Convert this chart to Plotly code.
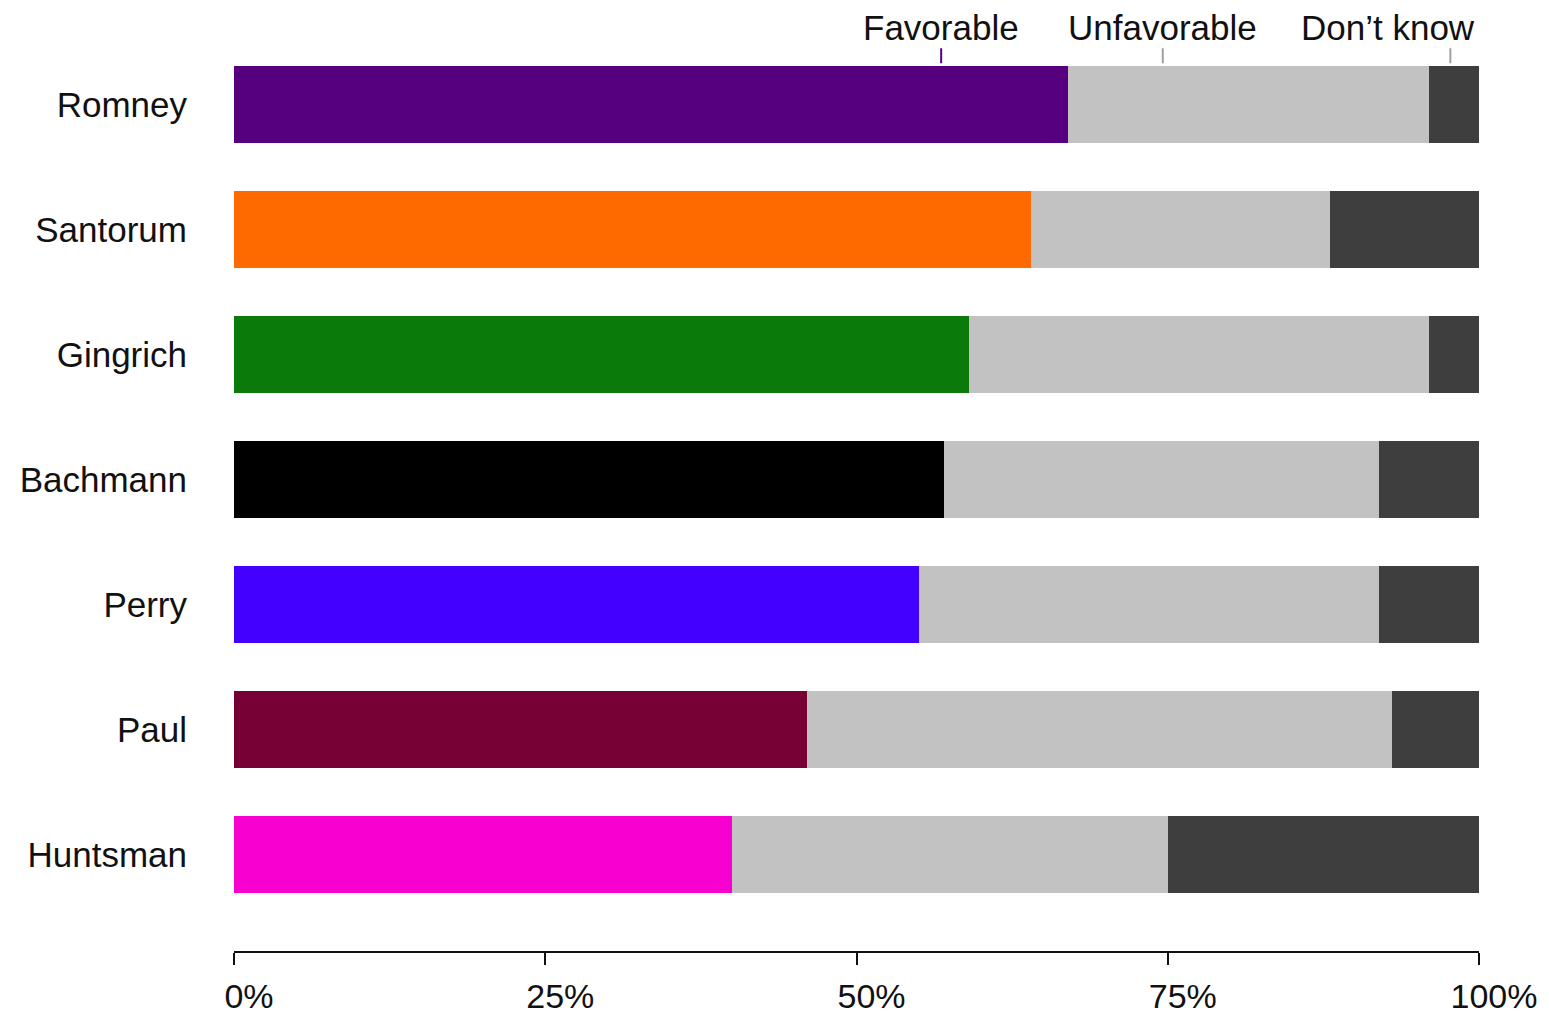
import plotly.graph_objects as go

categories = ["Romney", "Santorum", "Gingrich", "Bachmann", "Perry", "Paul", "Huntsman"]
favorable = [67, 64, 59, 57, 55, 46, 40]
unfavorable = [29, 24, 37, 35, 37, 47, 35]
dont_know = [4, 12, 4, 8, 8, 7, 25]
fav_colors = ["#560080", "#FF6A00", "#0A7A0A", "#000000", "#4400FF", "#770035", "#F800D0"]
legend_labels = ["Favorable", "Unfavorable", "Don\u2019t know"]
legend_x = [56.8, 74.6, 97.7]
tick_vals = [0, 25, 50, 75, 100]
tick_text = ["0%", "25%", "50%", "75%", "100%"]

ypos = list(range(len(categories)))
FONT = "Liberation Sans, Arial, sans-serif"

fig = go.Figure()
fig.add_trace(go.Bar(y=ypos, x=favorable, orientation="h", marker=dict(color=fav_colors, line=dict(width=0)),
                     width=0.62, name="Favorable", showlegend=False))
fig.add_trace(go.Bar(y=ypos, x=unfavorable, orientation="h", marker=dict(color="#C2C2C2", line=dict(width=0)),
                     width=0.62, name="Unfavorable", showlegend=False))
fig.add_trace(go.Bar(y=ypos, x=dont_know, orientation="h", marker=dict(color="#3E3E3E", line=dict(width=0)),
                     width=0.62, name="Don't know", showlegend=False))

# Legend labels with small pointer lines above the first bar
line_colors = ["#560080", "#A0A0A0", "#A0A0A0"]
for i, (lab, lx) in enumerate(zip(legend_labels, legend_x)):
    fig.add_shape(type="line", xref="x", yref="y", x0=lx, x1=lx, y0=-0.33, y1=-0.45,
                  line=dict(color=line_colors[i], width=2))
    if i < 2:
        fig.add_annotation(x=lx, y=0.992, xref="x", yref="paper", text=lab, showarrow=False,
                           xanchor="center", yanchor="bottom",
                           font=dict(family=FONT, size=35, color="#111111"))
    else:
        fig.add_annotation(x=99.8, y=0.992, xref="x", yref="paper", text=lab, showarrow=False,
                           xanchor="right", yanchor="bottom",
                           font=dict(family=FONT, size=35, color="#111111"))

fig.update_layout(
    width=1549, height=1019,
    margin=dict(l=226, r=78, t=34, b=69),
    barmode="stack",
    plot_bgcolor="white", paper_bgcolor="white",
    font=dict(family=FONT, color="#111111"),
    showlegend=False,
)
fig.update_xaxes(range=[0, 100], tickvals=tick_vals, ticktext=tick_text, showgrid=False, zeroline=False,
                 showline=True, linecolor="#111111", linewidth=2, ticks="outside", ticklen=12,
                 tickcolor="#111111", tickwidth=1.5, tickfont=dict(family=FONT, size=34, color="#111111"),
                 ticklabelshift=15, ticklabelstandoff=2)
fig.update_yaxes(range=[6.77, -0.5], tickvals=ypos, ticktext=categories, showgrid=False, zeroline=False,
                 showline=False, ticks="", tickfont=dict(family=FONT, size=35, color="#111111"),
                 ticklabelstandoff=46)

fig.write_html("out.html")
